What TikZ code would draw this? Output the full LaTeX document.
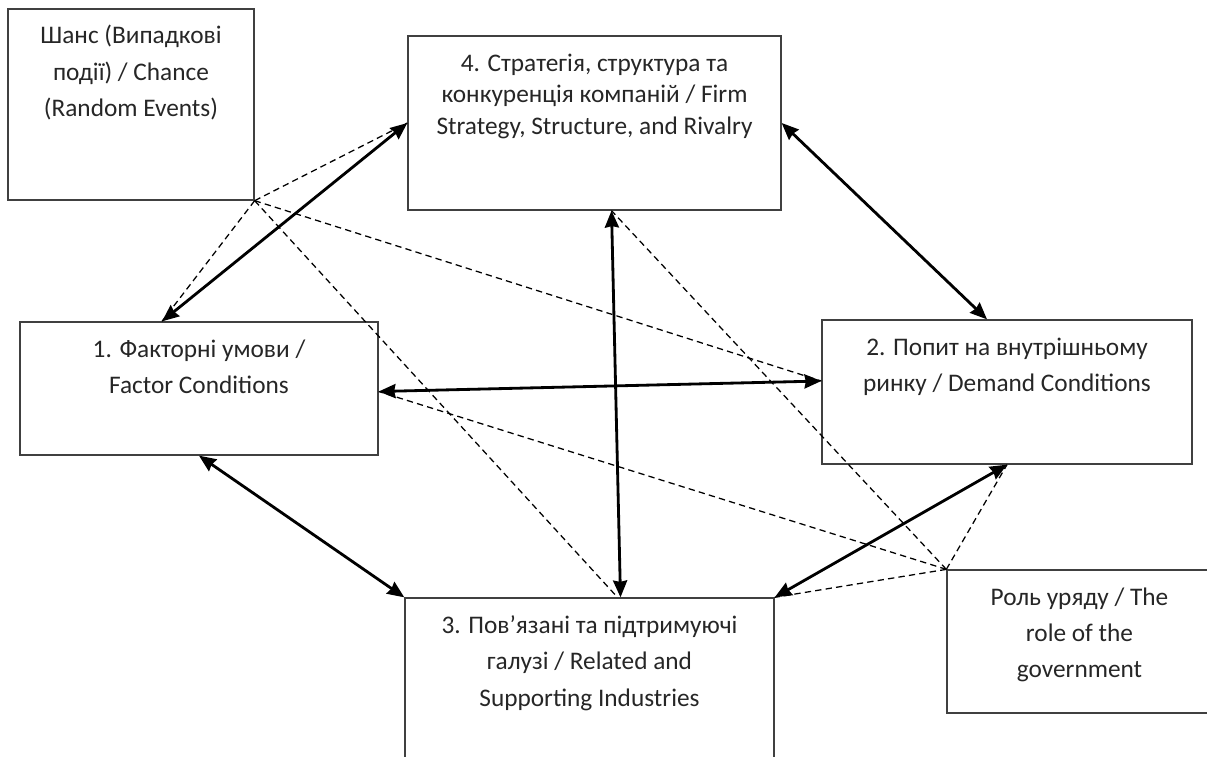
\documentclass[tikz,border=0pt]{standalone}
\usepackage{fontspec}
\setmainfont{Carlito}
\usepackage{tikz}
\usetikzlibrary{arrows.meta}
\usetikzlibrary{calc}
\usetikzlibrary{positioning}
\tikzstyle{box}=[draw=black!75, line width=0.9pt, inner sep=0pt]
\tikzstyle{lbl}=[inner sep=0pt, align=center, text=black!85, font=\fontsize{18}{25.8}\selectfont]
\tikzstyle{link}=[line width=2pt, >={Stealth[length=12pt, width=10pt, inset=1pt]}, <->]
\tikzstyle{infl}=[line width=0.9pt, dash pattern=on 4.5pt off 3pt]

\begin{document}
\begin{tikzpicture}[x=0.025cm, y=-0.025cm]
        \useasboundingbox (0, 0) rectangle (1207, 756);
        % boxes
        \node[box, minimum width=6.15cm, minimum height=4.775cm]  (chance) at (131, 104.5) {};
        \node[box, minimum width=9.325cm, minimum height=4.35cm]  (strat) at (594.5, 123) {};
        \node[box, minimum width=8.95cm, minimum height=3.325cm]  (factor) at (199, 388.5) {};
        \node[box, minimum width=9.25cm, minimum height=3.6cm]    (demand) at (1007, 392) {};
        \node[box, minimum width=9.225cm, minimum height=4.3cm]   (related) at (589.5, 684) {};
        \node[box, minimum width=6.625cm, minimum height=3.575cm] (gov) at (1079.5, 641.5) {};
        % texts
        \node[lbl, below=0.42cm of chance.north]  (chanceT) {Шанс (Випадкові\\події) / Chance\\(Random Events)};
        \node[lbl, font=\fontsize{18}{22.6}\selectfont, below=0.45cm of strat.north] (stratT) {4. Стратегія, структура та\\конкуренція компаній / Firm\\Strategy, Structure, and Rivalry};
        \node[lbl, below=0.45cm of factor.north]  (factorT) {1. Факторні умови /\\Factor Conditions};
        \node[lbl, below=0.45cm of demand.north]  (demandT) {2. Попит на внутрішньому\\ринку / Demand Conditions};
        \node[lbl, below=0.45cm of related.north] (relatedT) {3. Пов’язані та підтримуючі\\галузі / Related and\\Supporting Industries};
        \node[lbl, below=0.45cm of gov.north]     (govT) {Роль уряду / The\\role of the\\government};
        % ends
        \coordinate (f1) at ($(factor.north)+(-37, 0)$);
        \coordinate (f2) at ($(factor.east)+(0, 3)$);
        \coordinate (d1) at ($(demand.north)+(-20, 0)$);
        \coordinate (d2) at ($(demand.west)+(0, -11)$);
        \coordinate (s1) at ($(strat.south)+(17, 0)$);
        \coordinate (r1) at ($(related.north)+(31, 0)$);
        \coordinate (r2) at ($(related.north)+(28, 0)$);
        % diamond
        \draw[link] (f1) -- (strat.west);
        \draw[link] (strat.east) -- (d1);
        \draw[link] (f2) -- (d2);
        \draw[link] (s1) -- (r1);
        \draw[link] (factor.south) -- (related.north west);
        \draw[link] (demand.south) -- (related.north east);
        % chance and government
        \draw[infl] (chance.south east) -- (strat.west);
        \draw[infl] (chance.south east) -- (f1);
        \draw[infl] (chance.south east) -- (d2);
        \draw[infl] (chance.south east) -- (r2);
        \draw[infl] (gov.north west) -- (related.north east);
        \draw[infl] (gov.north west) -- (demand.south);
        \draw[infl] (gov.north west) -- (s1);
        \draw[infl] (gov.north west) -- (f2);
    \end{tikzpicture}
\end{document}
